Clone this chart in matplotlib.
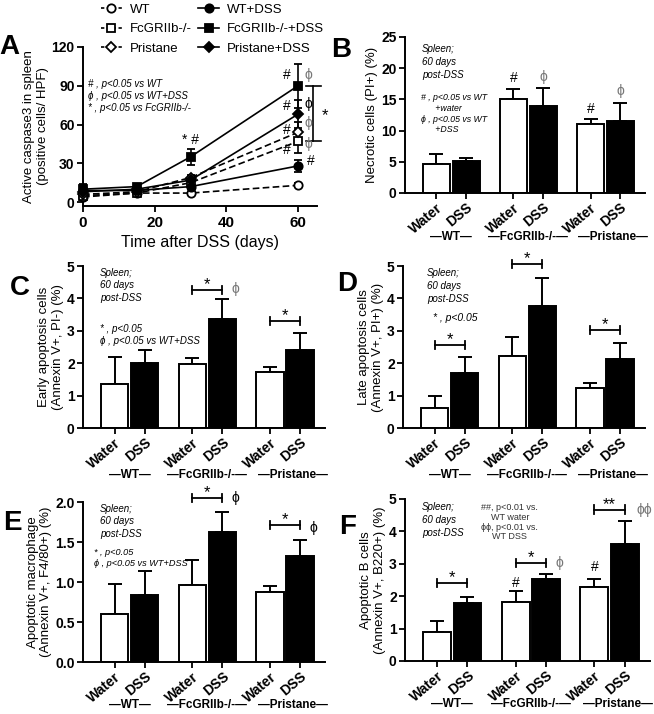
import numpy as np
import matplotlib.pyplot as plt
from matplotlib.lines import Line2D

plt.rcParams['font.family'] = ['Liberation Sans', 'DejaVu Sans']
plt.rcParams['font.weight'] = 'bold'

W, H = 654, 714
GREY = '#777777'
PHI = 'ϕ'

# ---- panel A: caspase3 time course ----
days = [0, 15, 30, 60]
wt = [4, 7, 7, 13]
wt_err = [1, 1, 1, 1.5]
wt_dss = [9, 9, 12, 28]
wt_dss_err = [2, 2, 2, 4.5]
fcg = [5, 7, 15, 47]
fcg_err = [1, 1, 2, 9]
fcg_dss = [10, 12, 35, 90]
fcg_dss_err = [4, 2, 6, 17]
pri = [6, 8, 19, 54]
pri_err = [1, 1, 2, 8]
pri_dss = [8, 10, 17, 68]
pri_dss_err = [2, 2, 2, 11]

# ---- bar panels ----
groups = ['WT', 'FcGRIIb-/-', 'Pristane']
conds = ['Water', 'DSS']

necro_water = [4.6, 15.0, 11.0]
necro_water_err = [1.6, 1.7, 0.9]
necro_dss = [5.2, 14.0, 11.6]
necro_dss_err = [0.4, 2.9, 2.9]

early_water = [1.37, 1.96, 1.73]
early_water_err = [0.81, 0.2, 0.14]
early_dss = [2.02, 3.35, 2.42]
early_dss_err = [0.38, 0.62, 0.5]

late_water = [0.62, 2.22, 1.24]
late_water_err = [0.38, 0.6, 0.14]
late_dss = [1.7, 3.77, 2.13]
late_dss_err = [0.5, 0.85, 0.5]

mac_water = [0.6, 0.96, 0.87]
mac_water_err = [0.37, 0.31, 0.08]
mac_dss = [0.84, 1.63, 1.32]
mac_dss_err = [0.3, 0.24, 0.21]

bcell_water = [0.9, 1.81, 2.27]
bcell_water_err = [0.33, 0.36, 0.26]
bcell_dss = [1.78, 2.54, 3.62]
bcell_dss_err = [0.19, 0.14, 0.71]


def add_axes(left, top, right, bottom):
    return fig.add_axes([left / W, 1 - bottom / H, (right - left) / W, (bottom - top) / H])


def style(ax):
    for s in ['top', 'right']:
        ax.spines[s].set_visible(False)
    for s in ['left', 'bottom']:
        ax.spines[s].set_linewidth(1.4)
    ax.tick_params(direction='out', length=4, width=1.3, labelsize=10)
    ax.tick_params(axis='y', pad=2)


def bar_panel(ax, water, water_err, dss, dss_err, ylim, yticks, ylabel, glabel_off=32):
    centers = np.arange(len(groups)) * 3.0
    xw = centers - 0.58
    xd = centers + 0.58
    ax.bar(xw, water, width=1.06, color='white', edgecolor='black', linewidth=1.4, zorder=2)
    ax.bar(xd, dss, width=1.06, color='black', edgecolor='black', linewidth=1.4, zorder=2)
    ax.errorbar(xw, water, yerr=[np.zeros(3), water_err], fmt='none', ecolor='black',
                elinewidth=1.4, capsize=5, capthick=1.4, zorder=1)
    ax.errorbar(xd, dss, yerr=[np.zeros(3), dss_err], fmt='none', ecolor='black',
                elinewidth=1.4, capsize=5, capthick=1.4, zorder=1)
    ax.set_xlim(-1.8, 7.54)
    ax.set_ylim(*ylim)
    ax.set_yticks(yticks)
    xt = np.ravel(np.column_stack([xw, xd]))
    ax.set_xticks(xt)
    ax.set_xticklabels(conds * 3, rotation=40, ha='right', rotation_mode='anchor', fontsize=10)
    ax.set_ylabel(ylabel, fontsize=9.5, labelpad=2)
    style(ax)
    ax.tick_params(axis='x', pad=1.5)
    for c, g, dx in zip(centers, groups, [0, 0, 0.3]):
        ax.annotate('—' + g + '—', xy=(c + dx, 0), xycoords=ax.get_xaxis_transform(),
                    xytext=(0, -glabel_off), textcoords='offset points',
                    ha='center', va='center', fontsize=8.5)
    return xw, xd


def bracket(ax, x1, x2, y, star, tick):
    kw = dict(color='black', lw=1.3, clip_on=False)
    ax.plot([x1, x2], [y, y], **kw)
    ax.plot([x1, x1], [y - tick, y + tick], **kw)
    ax.plot([x2, x2], [y - tick, y + tick], **kw)
    ax.annotate(star, xy=((x1 + x2) / 2, y), xytext=(0, -1.5), textcoords='offset points',
                ha='center', va='bottom', fontsize=12, weight='normal', annotation_clip=False)


fig = plt.figure(figsize=(W / 100, H / 100), dpi=100)

# ================= A =================
axA = add_axes(83, 47, 317, 206)
series = [
    (wt, wt_err, 'o', 'white', '--', 'WT'),
    (fcg, fcg_err, 's', 'white', '--', 'FcGRIIb-/-'),
    (pri, pri_err, 'D', 'white', '--', 'Pristane'),
    (wt_dss, wt_dss_err, 'o', 'black', '-', 'WT+DSS'),
    (fcg_dss, fcg_dss_err, 's', 'black', '-', 'FcGRIIb-/-+DSS'),
    (pri_dss, pri_dss_err, 'D', 'black', '-', 'Pristane+DSS'),
]
handles = []
for vals, errs, mk, fc, ls, lab in series:
    ms = 5 if mk == 'D' else 6
    lines = axA.errorbar(days, vals, yerr=errs, fmt=mk, ls=ls, color='black', mfc=fc, mec='black',
                         ms=ms, mew=1.3, lw=1.2, elinewidth=1.2, capsize=3, capthick=1.2,
                         clip_on=False, zorder=3)
    if ls == '--':
        lines[0].set_dashes((4, 2))
    h = Line2D([], [], color='black', ls=ls, marker=mk, mfc=fc, mec='black',
               ms=ms, mew=1.3, lw=1.2)
    if ls == '--':
        h.set_dashes((2, 1.5))
    handles.append(h)
axA.set_xlim(0, 65.3)
axA.set_ylim(-3, 120)
axA.set_xticks([0, 20, 40, 60])
axA.set_yticks([0, 30, 60, 90, 120])
style(axA)
axA.tick_params(axis='x', labelsize=11)
axA.set_xlabel('Time after DSS (days)', fontsize=11.5, labelpad=3)
axA.set_ylabel('Active caspase3 in spleen\n(positive cells/ HPF)', fontsize=9.5, labelpad=2)
fig.legend(handles, [s[5] for s in series], ncol=2, loc='upper left',
           bbox_to_anchor=(94 / W, 1 + 3 / H), frameon=False,
           handlelength=1.6, handletextpad=0.6, columnspacing=0.5, labelspacing=0.55,
           borderpad=0, prop={'weight': 'normal', 'size': 9.5})

small = dict(fontsize=7, style='italic', weight='normal', ha='left', va='center')
axA.text(1.5, 91, '# , p<0.05 vs WT', **small)
axA.text(1.5, 82, PHI + ' , p<0.05 vs WT+DSS', **small)
axA.text(1.5, 73, '* , p<0.05 vs FcGRIIb-/-', **small)
sym = dict(fontsize=10, weight='normal', ha='center', va='center')
axA.text(30, 48, '* #', **sym)
axA.text(57, 98, '#', **sym)
axA.text(63, 98, PHI, color=GREY, **sym)
axA.text(57, 74, '#', **sym)
axA.text(63, 76, PHI, **sym)
axA.text(63, 61, PHI, color=GREY, **sym)
axA.text(57, 56, '#', **sym)
axA.text(57, 40, '#', **sym)
axA.text(63, 45, PHI, color=GREY, **sym)
axA.text(63.5, 32, '#', **sym)
kw = dict(color='black', lw=1.2, clip_on=False)
axA.plot([64.2, 64.2], [47, 90], **kw)
axA.plot([62.3, 66.3], [90, 90], **kw)
axA.plot([62.3, 66.3], [47, 47], **kw)
axA.text(67.4, 67, '*', fontsize=12, weight='normal', ha='center', va='center', clip_on=False)

spleen = dict(fontsize=7, style='italic', weight='normal', ha='left', va='top', linespacing=1.35)

# ================= B =================
axB = add_axes(405, 37, 645, 193)
xw, xd = bar_panel(axB, necro_water, necro_water_err, necro_dss, necro_dss_err,
                   (0, 25), [0, 5, 10, 15, 20, 25], 'Necrotic cells (PI+) (%)')
axB.text(0.07, 0.955, 'Spleen;\n60 days\npost-DSS', transform=axB.transAxes, **spleen)
axB.text(0.065, 0.64, '# , p<0.05 vs WT\n      +water\n' + PHI + ' , p<0.05 vs WT\n      +DSS',
         transform=axB.transAxes, fontsize=6.3, style='italic', weight='normal',
         ha='left', va='top', linespacing=1.25)
axB.text(xw[1], 18.4, '#', **sym)
axB.text(xd[1], 18.6, PHI, color=GREY, **sym)
axB.text(xw[2], 13.5, '#', **sym)
axB.text(xd[2], 16.3, PHI, color=GREY, **sym)

# ================= C =================
axC = add_axes(83, 266, 325, 428)
xw, xd = bar_panel(axC, early_water, early_water_err, early_dss, early_dss_err,
                   (0, 5), [0, 1, 2, 3, 4, 5], 'Early apoptosis cells\n(Annexin V+, PI-) (%)',
                   glabel_off=34)
axC.text(0.07, 0.99, 'Spleen;\n60 days\npost-DSS', transform=axC.transAxes, **spleen)
axC.text(0.07, 0.64, '* , p<0.05\n' + PHI + ' , p<0.05 vs WT+DSS', transform=axC.transAxes,
         fontsize=7, style='italic', weight='normal', ha='left', va='top', linespacing=1.2)
bracket(axC, xw[1], xd[1], 4.26, '*', 0.13)
axC.text(xd[1] + 0.5, 4.3, PHI, color=GREY, **sym)
bracket(axC, xw[2], xd[2], 3.3, '*', 0.13)

# ================= D =================
axD = add_axes(403, 266, 645, 428)
xw, xd = bar_panel(axD, late_water, late_water_err, late_dss, late_dss_err,
                   (0, 5), [0, 1, 2, 3, 4, 5], 'Late apoptosis cells\n(Annexin V+, PI+) (%)',
                   glabel_off=34)
axD.text(0.1, 0.985, 'Spleen;\n60 days\npost-DSS', transform=axD.transAxes, **spleen)
axD.text(0.125, 0.68, '* , p<0.05', transform=axD.transAxes, fontsize=7.5, style='italic',
         weight='normal', ha='left', va='center')
bracket(axD, xw[0], xd[0], 2.56, '*', 0.13)
bracket(axD, xw[1], xd[1], 5.06, '*', 0.13)
bracket(axD, xw[2], xd[2], 3.02, '*', 0.13)

# ================= E =================
axE = add_axes(83, 502, 325, 662)
xw, xd = bar_panel(axE, mac_water, mac_water_err, mac_dss, mac_dss_err,
                   (0, 2), [0.0, 0.5, 1.0, 1.5, 2.0], 'Apoptotic macrophage\n(Annexin V+, F4/80+) (%)',
                   glabel_off=31)
axE.set_yticklabels(['0.0', '0.5', '1.0', '1.5', '2.0'])
axE.text(0.07, 0.99, 'Spleen;\n60 days\npost-DSS', transform=axE.transAxes, **spleen)
axE.text(0.045, 0.71, '* , p<0.05\n' + PHI + ' , p<0.05 vs WT+DSS', transform=axE.transAxes,
         fontsize=6.6, style='italic', weight='normal', ha='left', va='top', linespacing=1.2)
bracket(axE, xw[1], xd[1], 2.05, '*', 0.05)
axE.text(xd[1] + 0.5, 2.05, PHI, **sym)
bracket(axE, xw[2], xd[2], 1.71, '*', 0.05)
axE.text(xd[2] + 0.5, 1.68, PHI, **sym)

# ================= F =================
axF = add_axes(405, 499, 650, 661)
xw, xd = bar_panel(axF, bcell_water, bcell_water_err, bcell_dss, bcell_dss_err,
                   (0, 5), [0, 1, 2, 3, 4, 5], 'Apoptotic B cells\n(Annexin V+, B220+) (%)',
                   glabel_off=31)
axF.text(0.07, 0.98, 'Spleen;\n60 days\npost-DSS', transform=axF.transAxes, **spleen)
axF.text(2.2, 4.87, '##, p<0.01 vs.\nWT water\n' + PHI + PHI + ', p<0.01 vs.\nWT DSS',
         fontsize=6.5, weight='normal', ha='center', va='top', linespacing=1.1, color='#333333')
bracket(axF, xw[0], xd[0], 2.4, '*', 0.13)
bracket(axF, xw[1], xd[1], 3.03, '*', 0.13)
axF.text(xd[1] + 0.5, 3.03, PHI, color=GREY, **sym)
bracket(axF, xw[2], xd[2], 4.67, '**', 0.13)
axF.text(xd[2] + 0.75, 4.66, PHI + PHI, color=GREY, **sym)
axF.text(xw[1], 2.42, '#', **sym)
axF.text(xw[2], 2.89, '#', **sym)

# panel letters
for lab, x, y in [('A', 9, 47), ('B', 341, 50), ('C', 20, 288), ('D', 347, 284),
                  ('E', 12, 523), ('F', 348, 527)]:
    fig.text(x / W, 1 - y / H, lab, fontsize=20, weight='bold', ha='center', va='center')

fig.savefig('out.png', dpi=100)
